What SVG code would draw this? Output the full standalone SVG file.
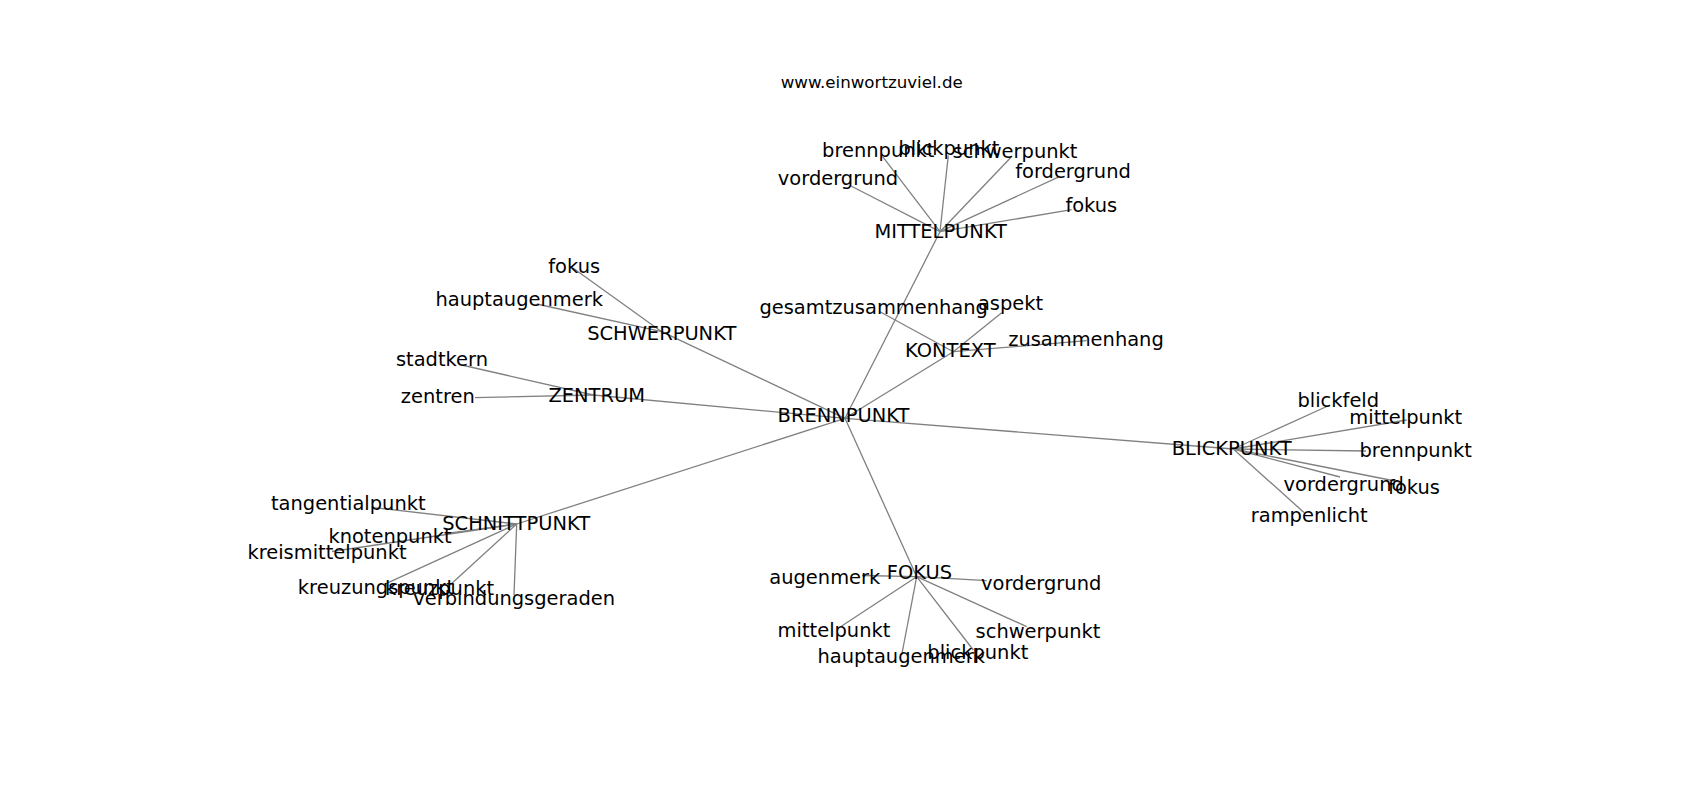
<svg xmlns="http://www.w3.org/2000/svg" width="1700" height="800" viewBox="0 0 1700 800">
<style>
text{font-family:"DejaVu Sans","Liberation Sans",sans-serif;font-size:19.44px;fill:#000;text-anchor:middle}
.title{font-size:16.67px}
#edges line{stroke:#808080;stroke-width:1.3}
</style>
<rect width="1700" height="800" fill="#fff"/>
<g id="edges">
<line x1="845" y1="418.3" x2="940" y2="231.7"/>
<line x1="845" y1="418.3" x2="953.3" y2="351.7"/>
<line x1="845" y1="418.3" x2="661.7" y2="331.7"/>
<line x1="845" y1="418.3" x2="593.3" y2="395"/>
<line x1="845" y1="418.3" x2="516.7" y2="524"/>
<line x1="845" y1="418.3" x2="916.7" y2="576.7"/>
<line x1="845" y1="418.3" x2="1233.3" y2="449"/>
<line x1="940" y1="231.7" x2="850" y2="185.5"/>
<line x1="940" y1="231.7" x2="882.5" y2="156.3"/>
<line x1="940" y1="231.7" x2="948.3" y2="155.5"/>
<line x1="940" y1="231.7" x2="1010.8" y2="157.5"/>
<line x1="940" y1="231.7" x2="1060" y2="176.3"/>
<line x1="940" y1="231.7" x2="1071.7" y2="209.7"/>
<line x1="953.3" y1="351.7" x2="880" y2="311.7"/>
<line x1="953.3" y1="351.7" x2="1001.7" y2="312.7"/>
<line x1="953.3" y1="351.7" x2="1086.7" y2="340.7"/>
<line x1="661.7" y1="331.7" x2="573.3" y2="268.3"/>
<line x1="661.7" y1="331.7" x2="536.7" y2="304"/>
<line x1="593.3" y1="395" x2="461.7" y2="365"/>
<line x1="593.3" y1="395" x2="475" y2="397.7"/>
<line x1="1233.3" y1="449" x2="1330" y2="405"/>
<line x1="1233.3" y1="449" x2="1406.7" y2="420"/>
<line x1="1233.3" y1="449" x2="1366" y2="451"/>
<line x1="1233.3" y1="449" x2="1340" y2="477"/>
<line x1="1233.3" y1="449" x2="1400" y2="482"/>
<line x1="1233.3" y1="449" x2="1304" y2="512.5"/>
<line x1="516.7" y1="524" x2="371.7" y2="507.3"/>
<line x1="516.7" y1="524" x2="446.7" y2="533.3"/>
<line x1="516.7" y1="524" x2="332" y2="551.5"/>
<line x1="516.7" y1="524" x2="386" y2="583.7"/>
<line x1="516.7" y1="524" x2="450" y2="585"/>
<line x1="516.7" y1="524" x2="514" y2="595"/>
<line x1="916.7" y1="576.7" x2="862" y2="575.5"/>
<line x1="916.7" y1="576.7" x2="986.7" y2="580.7"/>
<line x1="916.7" y1="576.7" x2="841.7" y2="626"/>
<line x1="916.7" y1="576.7" x2="901.7" y2="655"/>
<line x1="916.7" y1="576.7" x2="973.3" y2="650"/>
<line x1="916.7" y1="576.7" x2="1026.7" y2="626.7"/>
</g>
<text class="title" x="871.7" y="88.3">www.einwortzuviel.de</text>
<g id="brennpunkt"><text x="843.5" y="421.7">BRENNPUNKT</text></g>
<g id="mittelpunkt"><text x="940.7" y="238.3">MITTELPUNKT</text></g>
<g id="mittelpunkt-vordergrund"><text x="838" y="185">vordergrund</text></g>
<g id="mittelpunkt-brennpunkt"><text x="878.3" y="156.5">brennpunkt</text></g>
<g id="mittelpunkt-blickpunkt"><text x="949" y="154.5">blickpunkt</text></g>
<g id="mittelpunkt-schwerpunkt"><text x="1015" y="158">schwerpunkt</text></g>
<g id="mittelpunkt-fordergrund"><text x="1073" y="178.3">fordergrund</text></g>
<g id="mittelpunkt-fokus"><text x="1091.3" y="211.7">fokus</text></g>
<g id="kontext"><text x="950.3" y="357.3">KONTEXT</text></g>
<g id="kontext-gesamtzusammenhang"><text x="873.7" y="314">gesamtzusammenhang</text></g>
<g id="kontext-aspekt"><text x="1010.5" y="310">aspekt</text></g>
<g id="kontext-zusammenhang"><text x="1086" y="346">zusammenhang</text></g>
<g id="schwerpunkt"><text x="661.7" y="340">SCHWERPUNKT</text></g>
<g id="schwerpunkt-fokus"><text x="574.2" y="272.7">fokus</text></g>
<g id="schwerpunkt-hauptaugenmerk"><text x="519.2" y="305.7">hauptaugenmerk</text></g>
<g id="zentrum"><text x="596.7" y="401.7">ZENTRUM</text></g>
<g id="zentrum-stadtkern"><text x="442" y="366">stadtkern</text></g>
<g id="zentrum-zentren"><text x="437.8" y="403.3">zentren</text></g>
<g id="blickpunkt"><text x="1231.7" y="455">BLICKPUNKT</text></g>
<g id="blickpunkt-blickfeld"><text x="1338.3" y="406.7">blickfeld</text></g>
<g id="blickpunkt-mittelpunkt"><text x="1405.7" y="424">mittelpunkt</text></g>
<g id="blickpunkt-brennpunkt"><text x="1415.7" y="457.3">brennpunkt</text></g>
<g id="blickpunkt-vordergrund"><text x="1343.7" y="490.7">vordergrund</text></g>
<g id="blickpunkt-fokus"><text x="1414" y="494">fokus</text></g>
<g id="blickpunkt-rampenlicht"><text x="1309.2" y="521.7">rampenlicht</text></g>
<g id="schnittpunkt"><text x="516.2" y="530">SCHNITTPUNKT</text></g>
<g id="schnittpunkt-tangentialpunkt"><text x="348.3" y="510">tangentialpunkt</text></g>
<g id="schnittpunkt-knotenpunkt"><text x="390" y="542.7">knotenpunkt</text></g>
<g id="schnittpunkt-kreismittelpunkt"><text x="327" y="559.3">kreismittelpunkt</text></g>
<g id="schnittpunkt-kreuzungspunkt"><text x="376" y="594.3">kreuzungspunkt</text></g>
<g id="schnittpunkt-kreuzpunkt"><text x="439.5" y="595">kreuzpunkt</text></g>
<g id="schnittpunkt-verbindungsgeraden"><text x="514.2" y="605">verbindungsgeraden</text></g>
<g id="fokus"><text x="919.5" y="579.3">FOKUS</text></g>
<g id="fokus-augenmerk"><text x="824.8" y="584.3">augenmerk</text></g>
<g id="fokus-vordergrund"><text x="1041.2" y="590">vordergrund</text></g>
<g id="fokus-mittelpunkt"><text x="834" y="636.7">mittelpunkt</text></g>
<g id="fokus-schwerpunkt"><text x="1038" y="638.3">schwerpunkt</text></g>
<g id="fokus-hauptaugenmerk"><text x="901.2" y="662.7">hauptaugenmerk</text></g>
<g id="fokus-blickpunkt"><text x="977.8" y="659.3">blickpunkt</text></g>
</svg>
